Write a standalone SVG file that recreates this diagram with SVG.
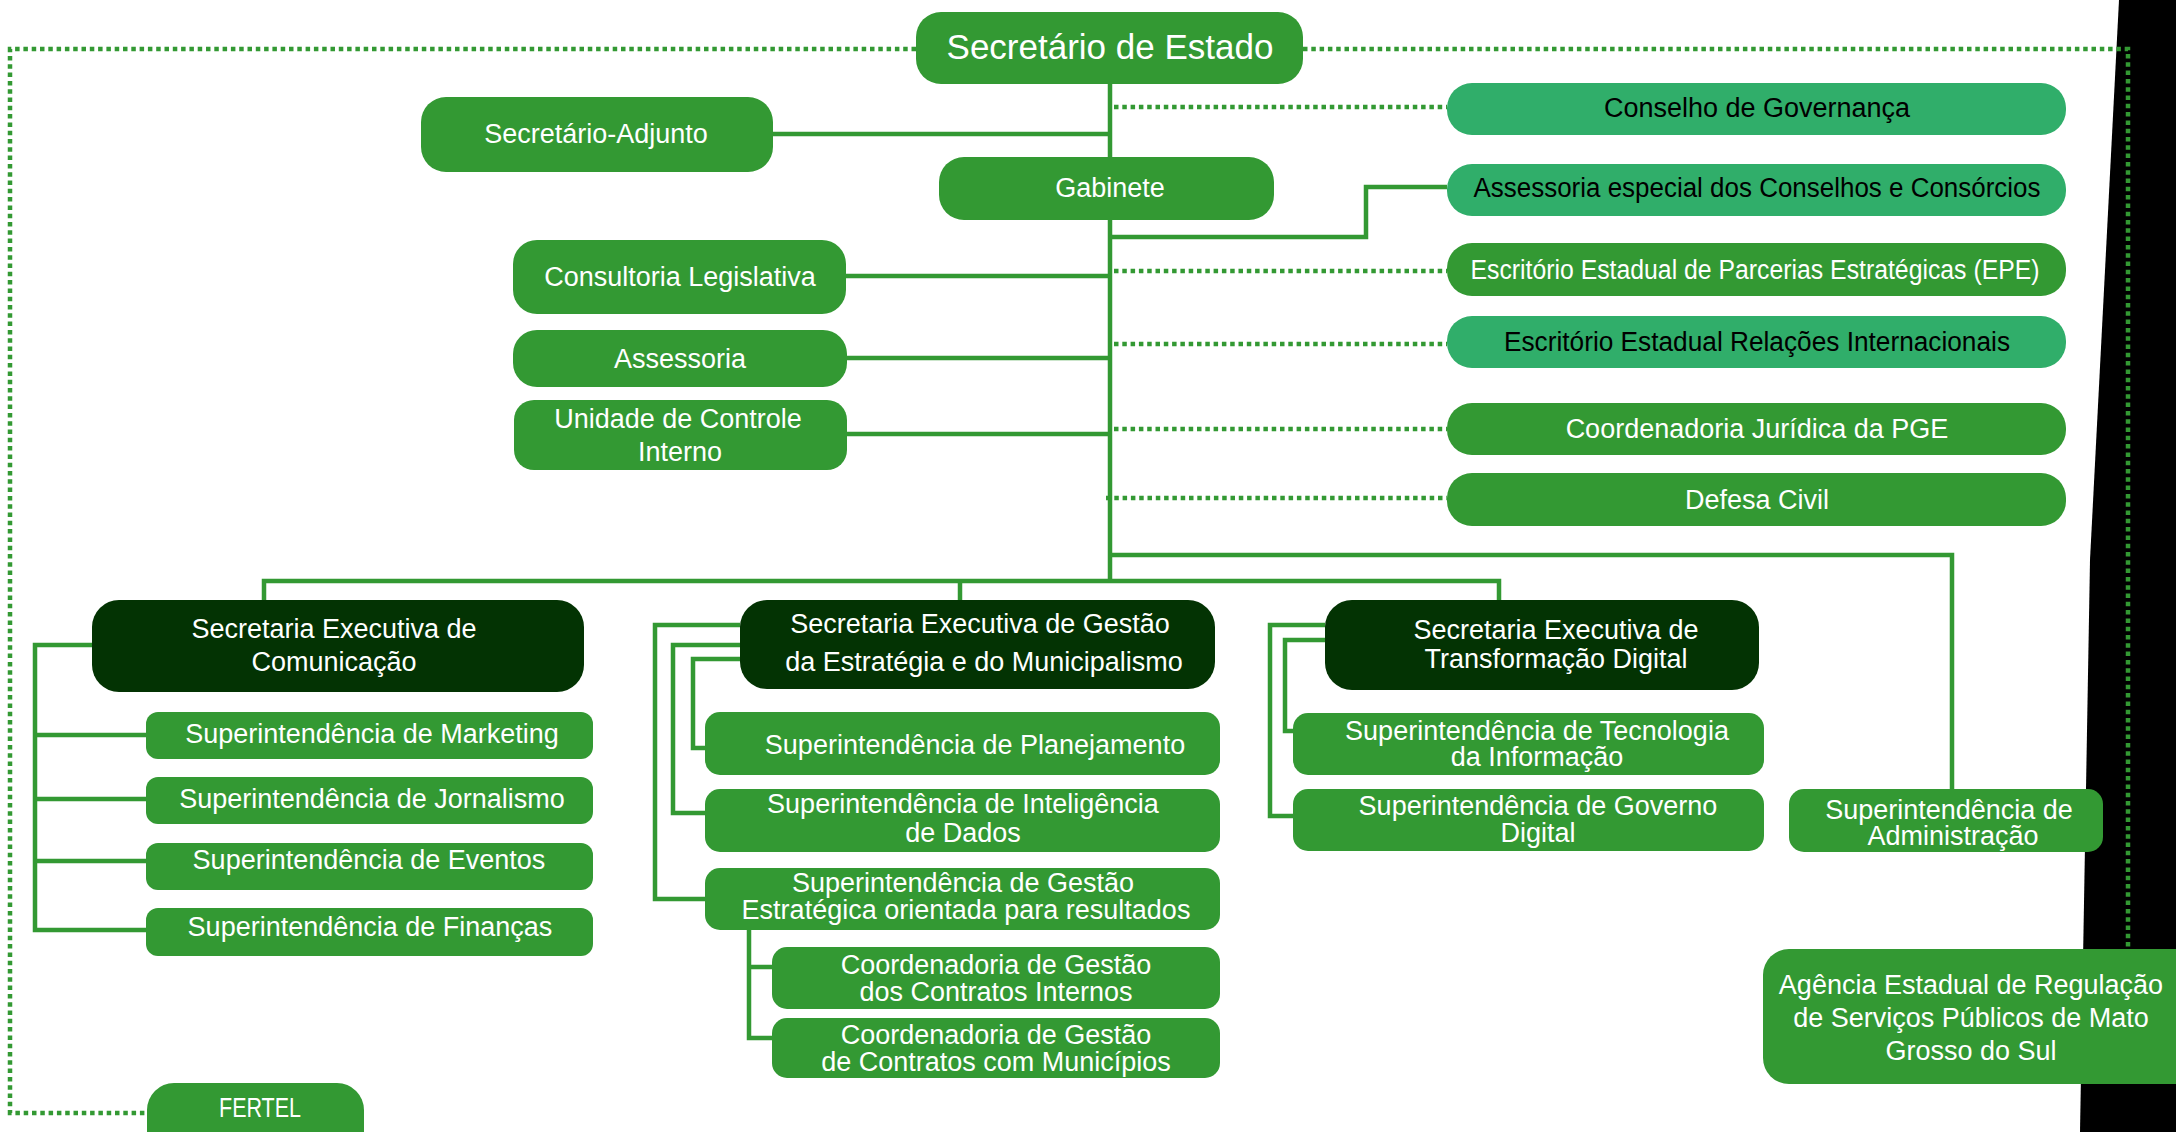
<svg xmlns="http://www.w3.org/2000/svg" width="2176" height="1132" viewBox="0 0 2176 1132">
<style>
.g{fill:#339933}
.l{fill:#30AE6A}
.d{fill:#033303}
text{font-family:"Liberation Sans",Arial,sans-serif;font-size:27px;fill:#fff;text-anchor:middle}
text.k{fill:#000}
.ln{stroke:#339933;stroke-width:4.5;fill:none}
.dt{stroke:#339933;stroke-width:4.5;fill:none;stroke-dasharray:4.5 3.8}
</style>
<rect x="0" y="0" width="2176" height="1132" fill="#fff"/>
<polygon points="2119,0 2090,560 2080,1132 2176,1132 2176,0" fill="#000"/>
<g id="connectors">
<path class="ln" d="M1110,84 V581"/>
<path class="ln" d="M773,134 H1110"/>
<path class="ln" d="M1110,237 H1366 V187 H1447"/>
<path class="ln" d="M846,276 H1110"/>
<path class="ln" d="M847,358 H1110"/>
<path class="ln" d="M847,434 H1110"/>
<path class="ln" d="M1110,555 H1952 V789"/>
<path class="ln" d="M264,600 V581 H1499 V600"/>
<path class="ln" d="M960,581 V600"/>
<path class="ln" d="M92,645 H35 V930 H146"/>
<path class="ln" d="M35,735 H146 M35,799 H146 M35,861 H146"/>
<path class="ln" d="M740,625 H655 V899 H705"/>
<path class="ln" d="M740,645 H673 V813 H705"/>
<path class="ln" d="M740,659 H693 V748 H705"/>
<path class="ln" d="M749,930 V1038 H772 M749,967 H772"/>
<path class="ln" d="M1325,625 H1270 V816 H1293"/>
<path class="ln" d="M1325,640 H1285 V731 H1293"/>
<path class="dt" d="M916,49 H10 V1113 H147"/>
<path class="dt" d="M1303,49 H2128 V949"/>
<path class="dt" d="M1114,107 H1447"/>
<path class="dt" d="M1114,271 H1447"/>
<path class="dt" d="M1114,344 H1447"/>
<path class="dt" d="M1114,429 H1447"/>
<path class="dt" d="M1106,498 H1447"/>
</g>
<g id="secretario-estado"><rect class="g" x="916" y="12" width="387" height="72" rx="25"/><text x="1110" y="59" style="font-size:35px">Secretário de Estado</text></g>
<g id="secretario-adjunto"><rect class="g" x="421" y="97" width="352" height="75" rx="25"/><text x="596" y="143">Secretário-Adjunto</text></g>
<g id="gabinete"><rect class="g" x="939" y="157" width="335" height="63" rx="25"/><text x="1110" y="197">Gabinete</text></g>
<g id="consultoria-legislativa"><rect class="g" x="513" y="240" width="333" height="74" rx="24"/><text x="680" y="286">Consultoria Legislativa</text></g>
<g id="assessoria"><rect class="g" x="513" y="330" width="334" height="57" rx="24"/><text x="680" y="368">Assessoria</text></g>
<g id="unidade-controle-interno"><rect class="g" x="514" y="400" width="333" height="70" rx="20"/><text x="678" y="428">Unidade de Controle</text><text x="680" y="461">Interno</text></g>
<g id="conselho-governanca"><rect class="l" x="1447" y="83" width="619" height="52" rx="25"/><text class="k" x="1757" y="117">Conselho de Governança</text></g>
<g id="assessoria-especial"><rect class="l" x="1447" y="164" width="619" height="52" rx="25"/><text class="k" x="1757" y="197" textLength="567" lengthAdjust="spacingAndGlyphs">Assessoria especial dos Conselhos e Consórcios</text></g>
<g id="escritorio-epe"><rect class="g" x="1447" y="243" width="619" height="53" rx="25"/><text x="1755" y="279" textLength="569" lengthAdjust="spacingAndGlyphs">Escritório Estadual de Parcerias Estratégicas (EPE)</text></g>
<g id="escritorio-ri"><rect class="l" x="1447" y="316" width="619" height="52" rx="25"/><text class="k" x="1757" y="351" textLength="506" lengthAdjust="spacingAndGlyphs">Escritório Estadual Relações Internacionais</text></g>
<g id="coordenadoria-pge"><rect class="g" x="1447" y="403" width="619" height="52" rx="25"/><text x="1757" y="438">Coordenadoria Jurídica da PGE</text></g>
<g id="defesa-civil"><rect class="g" x="1447" y="473" width="619" height="53" rx="25"/><text x="1757" y="509">Defesa Civil</text></g>
<g id="se-comunicacao"><rect class="d" x="92" y="600" width="492" height="92" rx="27"/><text x="334" y="638">Secretaria Executiva de</text><text x="334" y="671">Comunicação</text></g>
<g id="se-gestao"><rect class="d" x="740" y="600" width="475" height="89" rx="27"/><text x="980" y="633">Secretaria Executiva de Gestão</text><text x="984" y="671">da Estratégia e do Municipalismo</text></g>
<g id="se-transformacao"><rect class="d" x="1325" y="600" width="434" height="90" rx="27"/><text x="1556" y="639">Secretaria Executiva de</text><text x="1556" y="668">Transformação Digital</text></g>
<g id="sup-marketing"><rect class="g" x="146" y="712" width="447" height="47" rx="12"/><text x="372" y="743">Superintendência de Marketing</text></g>
<g id="sup-jornalismo"><rect class="g" x="146" y="777" width="447" height="47" rx="12"/><text x="372" y="808">Superintendência de Jornalismo</text></g>
<g id="sup-eventos"><rect class="g" x="146" y="843" width="447" height="47" rx="12"/><text x="369" y="869">Superintendência de Eventos</text></g>
<g id="sup-financas"><rect class="g" x="146" y="908" width="447" height="48" rx="12"/><text x="370" y="936">Superintendência de Finanças</text></g>
<g id="sup-planejamento"><rect class="g" x="705" y="712" width="515" height="63" rx="15"/><text x="975" y="754">Superintendência de Planejamento</text></g>
<g id="sup-inteligencia"><rect class="g" x="705" y="789" width="515" height="63" rx="15"/><text x="963" y="813">Superintendência de Inteligência</text><text x="963" y="842">de Dados</text></g>
<g id="sup-gestao-estrategica"><rect class="g" x="705" y="868" width="515" height="62" rx="15"/><text x="963" y="892">Superintendência de Gestão</text><text x="966" y="919">Estratégica orientada para resultados</text></g>
<g id="coord-contratos-internos"><rect class="g" x="772" y="947" width="448" height="62" rx="15"/><text x="996" y="974">Coordenadoria de Gestão</text><text x="996" y="1001">dos Contratos Internos</text></g>
<g id="coord-contratos-municipios"><rect class="g" x="772" y="1018" width="448" height="60" rx="15"/><text x="996" y="1044">Coordenadoria de Gestão</text><text x="996" y="1071">de Contratos com Municípios</text></g>
<g id="sup-tecnologia"><rect class="g" x="1293" y="713" width="471" height="62" rx="15"/><text x="1537" y="740">Superintendência de Tecnologia</text><text x="1537" y="766">da Informação</text></g>
<g id="sup-governo-digital"><rect class="g" x="1293" y="789" width="471" height="62" rx="15"/><text x="1538" y="815">Superintendência de Governo</text><text x="1538" y="842">Digital</text></g>
<g id="sup-administracao"><rect class="g" x="1789" y="789" width="314" height="63" rx="15"/><text x="1949" y="819">Superintendência de</text><text x="1953" y="845">Administração</text></g>
<g id="agencia-regulacao"><rect class="g" x="1763" y="949" width="440" height="135" rx="26"/><text x="1971" y="994">Agência Estadual de Regulação</text><text x="1971" y="1027">de Serviços Públicos de Mato</text><text x="1971" y="1060">Grosso do Sul</text></g>
<g id="fertel"><rect class="g" x="147" y="1083" width="217" height="80" rx="27"/><text x="260" y="1117" textLength="82" lengthAdjust="spacingAndGlyphs">FERTEL</text></g>
</svg>
